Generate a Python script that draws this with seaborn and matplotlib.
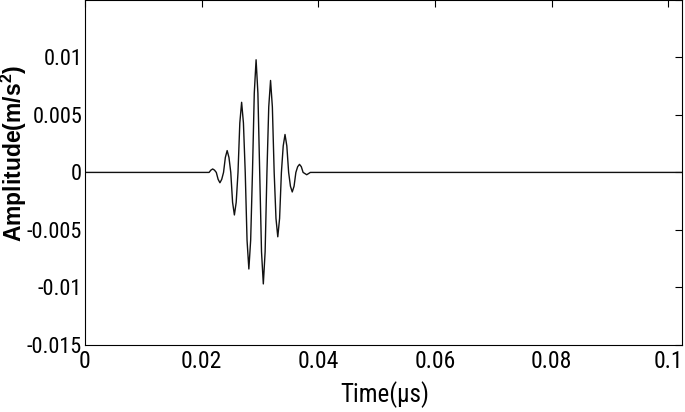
import matplotlib
matplotlib.use("Agg")
import matplotlib.pyplot as plt
import seaborn as sns

# values: zero crossings, shoulders and extremes of the burst
time_us = [0.0,
           0.02128, 0.02159, 0.02190, 0.02221,
           0.02252, 0.02283, 0.02314, 0.02345,
           0.02376, 0.02407, 0.02438, 0.02469,
           0.02500, 0.02531, 0.02562, 0.02593,
           0.02624, 0.02655, 0.02686, 0.02717,
           0.02748, 0.02779, 0.02810, 0.02841,
           0.02872, 0.02903, 0.02934, 0.02965,
           0.02996, 0.03027, 0.03058, 0.03089,
           0.03120, 0.03151, 0.03182, 0.03213,
           0.03244, 0.03275, 0.03306, 0.03337,
           0.03368, 0.03399, 0.03430, 0.03461,
           0.03492, 0.03523, 0.03554, 0.03585,
           0.03616, 0.03647, 0.03678, 0.03709,
           0.03740, 0.03771, 0.03802, 0.03833,
           0.03864, 0.1024]
amplitude = [0.0,
             0.0, 0.0002, 0.0003, 0.0002,
             0.0, -0.0006, -0.0009, -0.0006,
             0.0, 0.0013, 0.0019, 0.0013,
             0.0, -0.0026, -0.0037, -0.0026,
             0.0, 0.0043, 0.0061, 0.0043,
             0.0, -0.0059, -0.0084, -0.0059,
             0.0, 0.0069, 0.0098, 0.0069,
             0.0, -0.0069, -0.0097, -0.0069,
             0.0, 0.0057, 0.0080, 0.0057,
             0.0, -0.0040, -0.0056, -0.0040,
             0.0, 0.0023, 0.0033, 0.0023,
             0.0, -0.0012, -0.0017, -0.0012,
             0.0, 0.0005, 0.0007, 0.0005,
             0.0, -0.0001, -0.0002, -0.0001,
             0.0, 0.0]
xticks = [0, 0.02, 0.04, 0.06, 0.08, 0.1]
xticklabels = ["0", "0.02", "0.04", "0.06", "0.08", "0.1"]
yticks = [-0.015, -0.01, -0.005, 0, 0.005, 0.01, 0.015]
yticklabels = ["-0.015", "-0.01", "-0.005", "0", "0.005", "0.01", ""]

sns.set_theme(style="white")
plt.rcParams["font.family"] = ["Roboto Condensed", "DejaVu Sans"]
plt.rcParams["mathtext.fontset"] = "custom"
plt.rcParams["mathtext.rm"] = "Liberation Sans"
plt.rcParams["mathtext.bf"] = "Liberation Sans:bold"
for k in ["text.color", "axes.labelcolor", "xtick.color", "ytick.color"]:
    plt.rcParams[k] = "black"

fig = plt.figure(figsize=(6.85, 4.12), dpi=100)
ax = fig.add_axes([0.124, 0.163, 0.872, 0.837])

sns.lineplot(x=time_us, y=amplitude, ax=ax, color="#111111", linewidth=1.0,
             estimator=None, sort=False)

ax.set_xlim(0, 0.1024)
ax.set_ylim(-0.015, 0.015)
ax.set_xticks(xticks)
ax.set_xticklabels(xticklabels)
ax.set_yticks(yticks)
ax.set_yticklabels(yticklabels)
ax.tick_params(direction="in", length=5, width=0.8,
               top=True, right=True, labelsize=17)
ax.tick_params(axis="y", labelsize=16, pad=2)
ax.tick_params(axis="x", pad=4)

for s in ax.spines.values():
    s.set_color("black")
    s.set_linewidth(0.8)

ax.set_xlabel("Time(\u03bcs)", fontsize=18, va="center")
ax.xaxis.set_label_coords(0.502, -0.145)
ax.set_ylabel(r"Amplitude(m/s$^{\mathbf{2}}$)", fontsize=16.5, fontweight="bold",
              family=["Liberation Sans", "DejaVu Sans"], va="center")
ax.yaxis.set_label_coords(-0.119, 0.554)

fig.savefig("out.png", dpi=100)
